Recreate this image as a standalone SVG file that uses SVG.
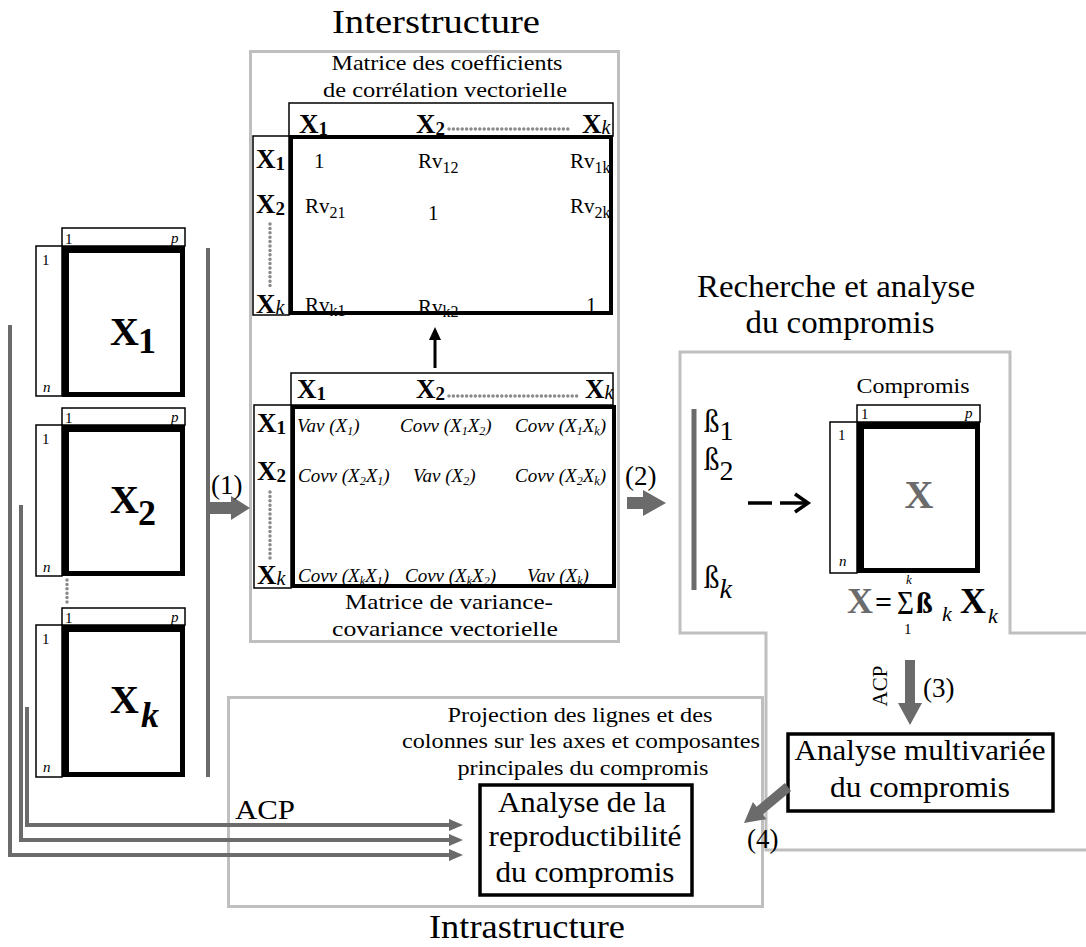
<svg xmlns="http://www.w3.org/2000/svg" width="1086" height="947" viewBox="0 0 1086 947" font-family="'Liberation Serif','Times New Roman',Tinos,Times,serif">
<style>
.t{font-family:"Liberation Serif","Times New Roman",Tinos,Times,serif;fill:#000}
.b{font-weight:bold}
.i{font-style:italic}
.gbox{fill:none;stroke:#bfbfbf;stroke-width:3}
.thin{fill:#fff;stroke:#000;stroke-width:1.5}
.thick{fill:none;stroke:#000;stroke-width:5}
.mid{fill:none;stroke:#000;stroke-width:4}
.box{fill:#fff;stroke:#000;stroke-width:3.5}
.ga{fill:#6b6b6b}
.gl{stroke:#6b6b6b;stroke-width:4;fill:none}
.dots{stroke:#8a8a8a;stroke-width:3.5;stroke-linecap:round;stroke-dasharray:0 4.4;fill:none}
.sm{font-size:15px}
.lt{stroke:#000;stroke-width:7;fill:none}
</style>
<rect width="1086" height="947" fill="#fff"/>

<g id="interstructure">
<rect class="gbox" x="250.5" y="51.5" width="368" height="590"/>
<text class="t" x="436" y="33" font-size="33" text-anchor="middle" textLength="208" lengthAdjust="spacingAndGlyphs">Interstructure</text>
</g>
<g id="recherche">
<path class="gbox" d="M1086,633 H1010 V352 H680 V633 H766 V850 H1086"/>
<text class="t" x="836" y="297" font-size="31" text-anchor="middle" textLength="278" lengthAdjust="spacingAndGlyphs">Recherche et analyse</text>
<text class="t" x="840" y="333" font-size="31" text-anchor="middle" textLength="189" lengthAdjust="spacingAndGlyphs">du compromis</text>
</g>
<g id="intrastructure">
<rect class="gbox" x="228.5" y="697.5" width="534" height="209"/>
<text class="t" x="527" y="938" font-size="33" text-anchor="middle" textLength="196" lengthAdjust="spacingAndGlyphs">Intrastructure</text>
</g>

<g id="matrix-X1">
<rect class="thin" x="62" y="228" width="123" height="18"/>
<rect class="thin" x="36" y="246" width="26" height="150"/>
<rect class="thick" x="64.5" y="248.5" width="118" height="146"/>
<path class="lt" d="M65.5,396 V249.5 H183"/>
<text class="t sm" x="65" y="244">1</text>
<text class="t sm i" x="171" y="243">p</text>
<text class="t sm" x="42" y="265">1</text>
<text class="t sm i" x="43" y="392">n</text>
<text class="t b" x="110" y="345" font-size="40">X</text>
<text class="t b" x="138" y="353" font-size="36">1</text>
</g>
<g id="matrix-X2">
<rect class="thin" x="62" y="408" width="123" height="17"/>
<rect class="thin" x="36" y="425" width="26" height="151"/>
<rect class="thick" x="64.5" y="427.5" width="118" height="146"/>
<path class="lt" d="M65.5,575 V428.5 H183"/>
<text class="t sm" x="65" y="423">1</text>
<text class="t sm i" x="171" y="422">p</text>
<text class="t sm" x="42" y="444">1</text>
<text class="t sm i" x="43" y="572">n</text>
<text class="t b" x="110" y="513" font-size="40">X</text>
<text class="t b" x="138" y="525" font-size="36">2</text>
</g>
<g id="matrix-Xk">
<rect class="thin" x="62" y="608" width="123" height="17"/>
<rect class="thin" x="36" y="625" width="26" height="152"/>
<rect class="thick" x="64.5" y="627.5" width="118" height="147"/>
<path class="lt" d="M65.5,776 V628.5 H183"/>
<text class="t sm" x="65" y="623">1</text>
<text class="t sm i" x="171" y="622">p</text>
<text class="t sm" x="42" y="644">1</text>
<text class="t sm i" x="43" y="772">n</text>
<text class="t b" x="110" y="713" font-size="40">X</text>
<text class="t b i" x="141" y="727" font-size="36">k</text>
</g>
<line class="dots" x1="67" y1="580" x2="67" y2="603"/>

<g id="matrix-Rv">
<text class="t" x="447" y="70" font-size="21" text-anchor="middle" textLength="231" lengthAdjust="spacingAndGlyphs">Matrice des coefficients</text>
<text class="t" x="445" y="97" font-size="21" text-anchor="middle" textLength="244" lengthAdjust="spacingAndGlyphs">de corrélation vectorielle</text>
<rect class="thin" x="289" y="103" width="324" height="33"/>
<rect class="thin" x="253" y="136" width="36" height="179"/>
<rect class="mid" x="291" y="137" width="320" height="176"/>
<text class="t b" x="299" y="133" font-size="27">X<tspan font-size="19" dy="2">1</tspan></text>
<text class="t b" x="416" y="133" font-size="27">X<tspan font-size="19" dy="2">2</tspan></text>
<line class="dots" x1="449" y1="129" x2="572" y2="129"/>
<text class="t b" x="582" y="133" font-size="27">X<tspan font-size="20" font-weight="normal" font-style="italic" dy="1">k</tspan></text>
<text class="t b" x="256" y="168" font-size="27">X<tspan font-size="19" dy="2">1</tspan></text>
<text class="t b" x="256" y="213" font-size="27">X<tspan font-size="19" dy="2">2</tspan></text>
<line class="dots" x1="270" y1="224" x2="270" y2="288"/>
<text class="t b" x="256" y="313" font-size="27">X<tspan font-size="20" font-weight="normal" font-style="italic" dy="1">k</tspan></text>
<text class="t" x="314" y="168" font-size="21">1</text>
<text class="t" x="418" y="168" font-size="21">Rv<tspan font-size="16" dy="5">12</tspan></text>
<text class="t" x="570" y="168" font-size="21">Rv<tspan font-size="16" dy="5">1k</tspan></text>
<text class="t" x="305" y="213" font-size="21">Rv<tspan font-size="16" dy="5">21</tspan></text>
<text class="t" x="428" y="220" font-size="21">1</text>
<text class="t" x="570" y="213" font-size="21">Rv<tspan font-size="16" dy="5">2k</tspan></text>
<text class="t" x="305" y="312" font-size="21">Rv<tspan font-size="16" dy="4">k1</tspan></text>
<text class="t" x="418" y="314" font-size="21">Rv<tspan font-size="16" dy="3">k2</tspan></text>
<text class="t" x="586" y="312" font-size="21">1</text>
</g>

<g id="matrix-Covv">
<rect class="thin" x="291" y="373" width="322" height="32"/>
<rect class="thin" x="254" y="405" width="37" height="183"/>
<rect class="mid" x="293" y="407" width="321" height="179"/>
<text class="t b" x="297" y="398" font-size="27">X<tspan font-size="19" dy="2">1</tspan></text>
<text class="t b" x="416" y="398" font-size="27">X<tspan font-size="19" dy="2">2</tspan></text>
<line class="dots" x1="449" y1="396" x2="580" y2="396"/>
<text class="t b" x="585" y="398" font-size="27">X<tspan font-size="20" font-weight="normal" font-style="italic" dy="1">k</tspan></text>
<text class="t b" x="257" y="432" font-size="27">X<tspan font-size="19" dy="2">1</tspan></text>
<text class="t b" x="257" y="480" font-size="27">X<tspan font-size="19" dy="2">2</tspan></text>
<line class="dots" x1="270" y1="492" x2="270" y2="558"/>
<text class="t b" x="257" y="584" font-size="27">X<tspan font-size="20" font-weight="normal" font-style="italic" dy="1">k</tspan></text>
<text class="t i" x="297" y="432" font-size="19">Vav (X<tspan font-size="12" dy="3">1</tspan><tspan dy="-3">)</tspan></text>
<text class="t i" x="400" y="432" font-size="19">Covv (X<tspan font-size="12" dy="3">1</tspan><tspan dy="-3">X</tspan><tspan font-size="12" dy="3">2</tspan><tspan dy="-3">)</tspan></text>
<text class="t i" x="515" y="432" font-size="19">Covv (X<tspan font-size="12" dy="3">1</tspan><tspan dy="-3">X</tspan><tspan font-size="12" dy="3">k</tspan><tspan dy="-3">)</tspan></text>
<text class="t i" x="298" y="482" font-size="19">Covv (X<tspan font-size="12" dy="3">2</tspan><tspan dy="-3">X</tspan><tspan font-size="12" dy="3">1</tspan><tspan dy="-3">)</tspan></text>
<text class="t i" x="413" y="482" font-size="19">Vav (X<tspan font-size="12" dy="3">2</tspan><tspan dy="-3">)</tspan></text>
<text class="t i" x="515" y="482" font-size="19">Covv (X<tspan font-size="12" dy="3">2</tspan><tspan dy="-3">X</tspan><tspan font-size="12" dy="3">k</tspan><tspan dy="-3">)</tspan></text>
<text class="t i" x="298" y="582" font-size="19">Covv (X<tspan font-size="12" dy="3">k</tspan><tspan dy="-3">X</tspan><tspan font-size="12" dy="3">1</tspan><tspan dy="-3">)</tspan></text>
<text class="t i" x="405" y="582" font-size="19">Covv (X<tspan font-size="12" dy="3">k</tspan><tspan dy="-3">X</tspan><tspan font-size="12" dy="3">2</tspan><tspan dy="-3">)</tspan></text>
<text class="t i" x="527" y="582" font-size="19">Vav (X<tspan font-size="12" dy="3">k</tspan><tspan dy="-3">)</tspan></text>
<text class="t" x="449" y="609" font-size="21" text-anchor="middle" textLength="208" lengthAdjust="spacingAndGlyphs">Matrice de variance-</text>
<text class="t" x="445" y="636" font-size="21" text-anchor="middle" textLength="226" lengthAdjust="spacingAndGlyphs">covariance vectorielle</text>
</g>

<g id="weights">
<line x1="694" y1="409" x2="694" y2="590" stroke="#6b6b6b" stroke-width="5"/>
<text class="t" x="704" y="432" font-size="31">ß<tspan font-size="28" dy="8">1</tspan></text>
<text class="t" x="704" y="470" font-size="31">ß<tspan font-size="28" dy="10">2</tspan></text>
<text class="t" x="704" y="588" font-size="31">ß<tspan font-size="28" font-style="italic" dy="10">k</tspan></text>
</g>

<g id="matrix-compromis">
<text class="t" x="913" y="393" font-size="20" text-anchor="middle" textLength="113" lengthAdjust="spacingAndGlyphs">Compromis</text>
<rect class="thin" x="857" y="405" width="123" height="17"/>
<rect class="thin" x="830" y="422" width="27" height="151"/>
<rect class="thick" x="859.5" y="424.5" width="118" height="146"/>
<path class="lt" d="M860.5,572 V425.5 H978"/>
<text class="t sm" x="861" y="419">1</text>
<text class="t sm i" x="965" y="418">p</text>
<text class="t sm" x="838" y="440">1</text>
<text class="t sm i" x="839" y="566">n</text>
<text class="t b" x="919" y="508" font-size="40" text-anchor="middle" style="fill:#6b6b6b">X</text>
</g>
<g id="formula">
<text class="t b" x="847" y="613" font-size="36" style="fill:#6b6b6b">X</text>
<text class="t b" x="875" y="612" font-size="30">=</text>
<text class="t" x="897" y="614" font-size="34" textLength="17" lengthAdjust="spacingAndGlyphs">Σ</text>
<text class="t i" x="906" y="584" font-size="13">k</text>
<text class="t" x="904" y="634" font-size="15">1</text>
<text class="t b" x="916" y="613" font-size="30">ß</text>
<text class="t i" x="942" y="621" font-size="22">k</text>
<text class="t b" x="960" y="613" font-size="36">X</text>
<text class="t i" x="988" y="623" font-size="22">k</text>
</g>

<g id="analyse-multivariee">
<rect class="box" x="788" y="734" width="265" height="77"/>
<text class="t" x="920" y="760" font-size="30" text-anchor="middle" textLength="251" lengthAdjust="spacingAndGlyphs">Analyse multivariée</text>
<text class="t" x="920" y="797" font-size="30" text-anchor="middle" textLength="180" lengthAdjust="spacingAndGlyphs">du compromis</text>
</g>
<g id="analyse-reproductibilite">
<text class="t" x="580" y="722" font-size="21" text-anchor="middle" textLength="265" lengthAdjust="spacingAndGlyphs">Projection des lignes et des</text>
<text class="t" x="581" y="748" font-size="21" text-anchor="middle" textLength="358" lengthAdjust="spacingAndGlyphs">colonnes sur les axes et composantes</text>
<text class="t" x="583" y="775" font-size="21" text-anchor="middle" textLength="251" lengthAdjust="spacingAndGlyphs">principales du compromis</text>
<rect class="box" x="480" y="785" width="212" height="110"/>
<text class="t" x="582" y="812" font-size="30" text-anchor="middle" textLength="168" lengthAdjust="spacingAndGlyphs">Analyse de la</text>
<text class="t" x="585" y="846" font-size="30" text-anchor="middle" textLength="193" lengthAdjust="spacingAndGlyphs">reproductibilité</text>
<text class="t" x="585" y="882" font-size="30" text-anchor="middle" textLength="179" lengthAdjust="spacingAndGlyphs">du compromis</text>
</g>

<g id="connectors">
<line class="gl" x1="208" y1="248" x2="208" y2="777"/>
<polygon class="ga" points="208,502 231,502 231,496 250,508 231,520 231,514 208,514"/>
<text class="t" x="211" y="494" font-size="27">(1)</text>
<polygon class="ga" points="627,497 643,497 643,490 666,503 643,516 643,509 627,509"/>
<text class="t" x="625" y="485" font-size="27">(2)</text>
<line x1="435" y1="368" x2="435" y2="338" stroke="#000" stroke-width="3"/>
<polygon points="435,327 441,340 429,340" fill="#000"/>
<line x1="748" y1="503" x2="772" y2="503" stroke="#000" stroke-width="3.5"/>
<line x1="780" y1="503" x2="806" y2="503" stroke="#000" stroke-width="3.5"/>
<polyline points="795,494 808,503 795,512" fill="none" stroke="#000" stroke-width="3.5"/>
<polygon class="ga" points="905,660 915,660 915,703 922,703 910,725 898,703 905,703"/>
<text class="t" x="887" y="686" font-size="21" text-anchor="middle" transform="rotate(-90 887 686)">ACP</text>
<text class="t" x="923" y="697" font-size="27">(3)</text>
<polygon class="ga" points="784.9,783.1 791.1,790.9 762.8,814.5 766.5,819.2 744,823 752.9,802 756.6,806.7"/>
<text class="t" x="747" y="848" font-size="27">(4)</text>
<path class="gl" d="M10,325 V855 H452"/>
<path class="gl" d="M21,505 V840 H452"/>
<path class="gl" d="M27,707 V825 H452"/>
<polygon class="ga" points="449,819 463,825 449,831"/>
<polygon class="ga" points="449,834 463,840 449,846"/>
<polygon class="ga" points="449,849 463,855 449,861"/>
<text class="t" x="235" y="819" font-size="28" textLength="60" lengthAdjust="spacingAndGlyphs">ACP</text>
</g>
</svg>
